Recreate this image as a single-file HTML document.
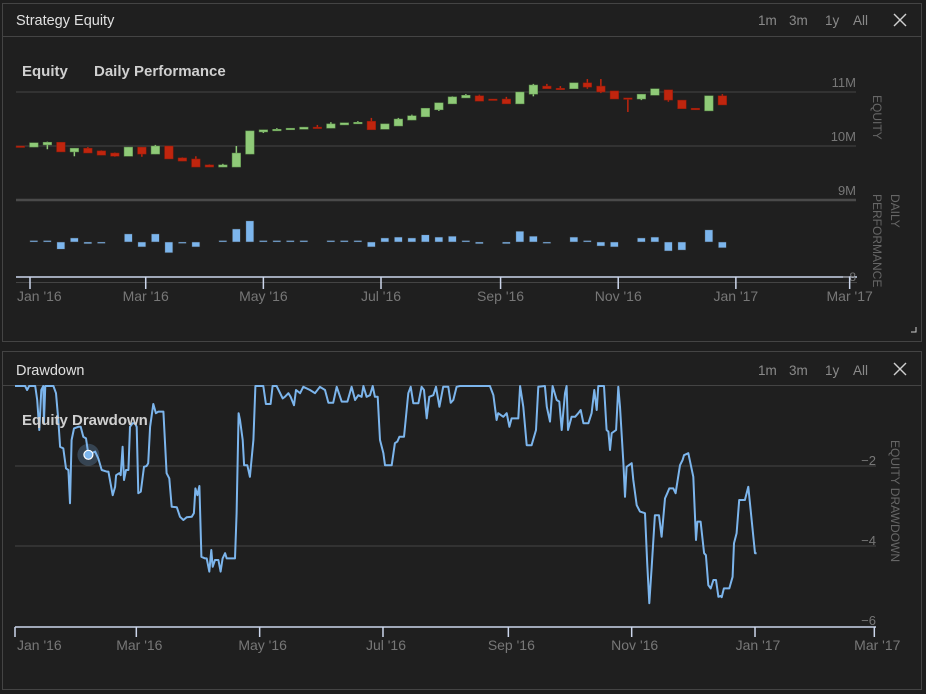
<!DOCTYPE html>
<html><head><meta charset="utf-8">
<style>
html,body{margin:0;padding:0;background:#1e1e1e;}
svg{display:block;font-family:"Liberation Sans",sans-serif;}
</style></head>
<body>
<svg id="root" width="926" height="694" viewBox="0 0 926 694" xmlns="http://www.w3.org/2000/svg">
  <rect x="0" y="0" width="926" height="694" fill="#1e1e1e"/>
  <g>
    <rect x="2.5" y="3.5" width="919" height="338" fill="#1f1f1f" stroke="#444"/>
    <line x1="3" y1="36.5" x2="921" y2="36.5" stroke="#444"/>
    <text x="16" y="25" fill="#e0e0e0" font-size="14.5">Strategy Equity</text>
    <text x="758" y="25" fill="#8a8a8a" font-size="13.5">1m</text>
    <text x="789" y="25" fill="#8a8a8a" font-size="13.5">3m</text>
    <text x="825" y="25" fill="#8a8a8a" font-size="13.5">1y</text>
    <text x="853" y="25" fill="#8a8a8a" font-size="13.5">All</text>
    <g stroke="#cfcfcf" stroke-width="1.4">
      <line x1="894" y1="14" x2="906" y2="26"/><line x1="906" y1="14" x2="894" y2="26"/>
    </g>
    <text x="22" y="76" fill="#d0d0d0" font-size="15" font-weight="bold">Equity</text>
    <text x="94" y="76" fill="#d0d0d0" font-size="15" font-weight="bold">Daily Performance</text>
    <path d="M911 332 H916 V327" fill="none" stroke="#ccc"/>
    <g id="topGrid"></g>
    <g id="candles"></g>
    <g id="perfBars"></g>
    <g id="topAxis"></g>
    <text transform="translate(873,95) rotate(90)" fill="#666" font-size="12">EQUITY</text>
    <text transform="translate(891,194) rotate(90)" fill="#666" font-size="12">DAILY</text>
    <text transform="translate(873,194) rotate(90)" fill="#666" font-size="12">PERFORMANCE</text>
  </g>
  <g>
    <rect x="2.5" y="351.5" width="919" height="338" fill="#1f1f1f" stroke="#444"/>
    <line x1="3" y1="385.5" x2="921" y2="385.5" stroke="#444"/>
    <text x="16" y="375" fill="#e0e0e0" font-size="14.5">Drawdown</text>
    <text x="758" y="375" fill="#8a8a8a" font-size="13.5">1m</text>
    <text x="789" y="375" fill="#8a8a8a" font-size="13.5">3m</text>
    <text x="825" y="375" fill="#8a8a8a" font-size="13.5">1y</text>
    <text x="853" y="375" fill="#8a8a8a" font-size="13.5">All</text>
    <g stroke="#cfcfcf" stroke-width="1.4">
      <line x1="894" y1="363" x2="906" y2="375"/><line x1="906" y1="363" x2="894" y2="375"/>
    </g>
    <g id="ddGrid"></g>
    <g id="ddLine"></g>
    <text x="22" y="425" fill="#d0d0d0" font-size="15" font-weight="bold">Equity Drawdown</text>
    <g id="ddAxis"></g>
    <text transform="translate(891,440) rotate(90)" fill="#666" font-size="12">EQUITY DRAWDOWN</text>
  </g>
</svg>
<script>
const monthLabels = ["Jan '16","Mar '16","May '16","Jul '16","Sep '16","Nov '16","Jan '17","Mar '17"];
const monthDays = [0,60,121,182,244,305,366,425];
const equityTicks = [9,10,11];
const equityTickLabels = ["9M","10M","11M"];
const ddTicks = [-2,-4,-6];
const ddTickLabels = ["\u22122","\u22124","\u22126"];
const candleOpen  = [10.00,9.98,10.02,10.07,9.89,9.96,9.91,9.87,9.81,9.98,9.85,10.00,9.78,9.76,9.65,9.61,9.61,9.85,10.26,10.28,10.30,10.31,10.35,10.33,10.39,10.41,10.46,10.31,10.37,10.48,10.54,10.67,10.78,10.89,10.93,10.87,10.87,10.78,10.96,11.11,11.07,11.06,11.17,11.11,11.02,10.89,10.87,10.94,11.04,10.85,10.70,10.65,10.93];
const candleClose = [9.99,10.06,10.07,9.89,9.96,9.87,9.83,9.81,9.98,9.85,10.00,9.76,9.72,9.61,9.61,9.65,9.87,10.28,10.30,10.31,10.33,10.35,10.33,10.41,10.43,10.44,10.30,10.41,10.50,10.56,10.70,10.80,10.91,10.94,10.83,10.85,10.78,11.00,11.13,11.06,11.06,11.17,11.09,11.00,10.87,10.87,10.96,11.06,10.85,10.69,10.67,10.93,10.76];
const candleHigh  = [10.00,10.06,10.08,10.07,9.96,9.98,9.92,9.88,9.98,9.98,10.02,10.00,9.79,9.81,9.66,9.67,10.00,10.28,10.30,10.33,10.33,10.35,10.39,10.44,10.43,10.46,10.52,10.41,10.52,10.58,10.70,10.80,10.92,10.96,10.95,10.87,10.91,11.00,11.15,11.15,11.11,11.17,11.24,11.24,11.02,10.89,10.96,11.06,11.04,10.85,10.70,10.93,10.96];
const candleLow   = [9.99,9.98,9.94,9.89,9.81,9.87,9.83,9.80,9.81,9.80,9.85,9.76,9.72,9.61,9.61,9.61,9.61,9.85,10.24,10.28,10.30,10.31,10.33,10.33,10.39,10.41,10.30,10.31,10.37,10.48,10.54,10.65,10.78,10.89,10.83,10.85,10.78,10.78,10.92,11.06,11.06,11.06,11.06,10.98,10.87,10.63,10.85,10.94,10.82,10.69,10.67,10.65,10.76];
const perfValues  = [0,0.2,0.2,-1.6,0.9,-0.4,-0.2,0,1.8,-1.1,1.8,-2.4,-0.2,-1.1,0,0.2,2.9,4.7,0.2,0.2,0.2,0.2,0,0.2,0.2,0.2,-1.1,0.9,1.1,0.9,1.6,1.1,1.3,0.2,-0.4,0,-0.4,2.4,1.3,-0.2,0,1.1,0.2,-0.9,-1.1,0,0.9,1.1,-2.0,-1.8,0,2.7,-1.3];
const ddDays = [0,5,6,7,10,11,12,13,14,14.3,15,19,20.3,21.4,22.3,23.9,25.2,26.4,27.2,28,29.2,31.3,32.5,33.8,35.1,36.3,37.9,39.6,41.2,42.9,45.3,46.2,48.3,49.5,50,51.6,52.3,53.2,53.9,54.9,56.1,56.9,58.2,59.3,60.2,61,62.2,63.8,65.1,65.9,66.8,68.4,69.7,70.9,73.4,75,76.3,77.5,80,81.6,83.3,84.9,87.4,88.5,89.2,90.2,91.2,92.2,94,94.8,96.1,97.1,97.8,98.9,100.6,101.7,102.7,103.9,104.7,108.8,109.6,110.6,111.3,112.6,113.3,114.9,116.2,117.9,118.9,122.8,124.1,126.4,127.4,129.4,132.4,133.5,135.2,136.3,138,139,141,142.6,145.9,148.4,150.8,153.3,155,157.4,159.1,161.6,164.4,166.5,168.2,169.8,171.4,172.3,173.9,175.6,176.9,178,179.4,180.5,182.2,183,186.3,187.9,189.1,190.1,192.4,194.5,195.7,197,199.5,201.1,202.3,203.6,204.9,206.9,208.2,209.9,211.8,214.3,215.5,216.8,218.4,220.1,234.9,236.6,238.2,239,241.5,243.2,244.5,245.6,248.9,249.8,251.4,253.1,255.5,257.7,258.8,262.1,263,264.6,265.9,267.9,269.2,270.4,272,272.8,273.5,275.3,277,278.6,279.8,281.1,283.6,285.2,286.5,287.7,288.5,291.3,292.6,293.5,294.3,295.1,297.3,298.4,299.2,300.9,301.7,302.5,305,305.8,307.5,309.1,311.6,312.7,313.7,314.9,316.5,318.5,319.8,321.5,322.6,323.6,325.6,326.7,328.9,330.2,330.9,333,335.5,336.8,337.5,339.1,340.8,341.7,342.9,344.1,345.4,346.7,347.9,349,349.5,350.6,353.3,354.9,355.6,356.9,358.2,361,362.7,366,366.8];
const ddValues = [0,0,-0.10,0,0,-0.35,-1.10,-0.10,0,-0.93,0,0,-0.18,-0.85,-1.52,-1.56,-2.06,-2.10,-2.93,-1.35,-1.06,-1.02,-1.02,-1.27,-1.31,-1.72,-1.68,-1.64,-1.81,-2.10,-2.14,-2.14,-2.73,-2.52,-2.23,-2.18,-2.23,-1.52,-2.35,-2.10,-2.10,-1.02,-0.93,-0.93,-1.02,-2.68,-2.64,-2.02,-2.00,-1.93,-1.02,-0.45,-0.68,-0.64,-0.64,-2.18,-2.31,-3.02,-3.03,-3.27,-3.35,-3.28,-3.27,-3.18,-2.56,-2.73,-2.50,-4.27,-4.31,-4.31,-4.64,-4.10,-4.52,-4.35,-4.35,-4.64,-4.31,-4.18,-4.31,-4.31,-3.18,-0.68,-0.85,-1.35,-1.98,-1.98,-2.27,-1.35,0,0,-0.45,-0.45,0,0,-0.31,-0.27,-0.18,-0.27,-0.48,-0.10,-0.18,-0.02,-0.10,-0.18,-0.02,-0.10,-0.42,-0.42,-0.02,-0.39,-0.39,-0.02,-0.35,-0.23,-0.27,0,-0.27,-0.23,0,-0.27,-0.27,-1.35,-1.68,-1.98,-1.98,-1.43,-1.39,-1.27,-1.27,-0.18,-0.02,-0.43,-0.43,-0.02,-0.10,-0.81,-0.27,-0.23,-0.02,-0.52,-0.02,-0.02,-0.42,-0.35,-0.02,0,0,-0.23,-0.85,-0.68,-0.77,-0.68,-1.02,-0.81,-0.81,0,-0.52,-1.48,-1.48,-1.10,-0.02,0,-0.52,-0.89,0,-0.35,-0.39,-1.10,-0.18,0,-1.10,-0.77,-0.77,-0.68,-0.60,-0.93,-0.93,-0.68,-0.10,-0.60,0,0,-1.10,-1.14,-1.60,-1.18,-1.10,-0.02,-0.52,-1.93,-2.77,-2.02,-1.93,-2.35,-2.98,-3.14,-3.18,-4.43,-5.43,-4.52,-3.23,-3.23,-3.77,-2.81,-2.68,-2.56,-2.56,-2.68,-1.98,-1.85,-1.73,-1.68,-2.27,-3.85,-3.39,-3.39,-4.18,-4.23,-4.98,-5.06,-4.85,-4.85,-5.27,-5.25,-5.28,-5.06,-5.06,-4.77,-3.93,-3.68,-2.85,-2.85,-2.52,-4.18,-4.18];
const hoverIndex = 25;

const NS = "http://www.w3.org/2000/svg";
const tx = d => 30 + d * 1.9286;
const ty = v => 146 - (v - 10) * 54;
const py = v => 242 - v * 4.5;
const bx = d => 15 + d * 2.0219;
const by = v => 386 - v * 40;
const weekDay = i => -5 + 7 * i;

function mk(tag, attrs, parent){
  const e = document.createElementNS(NS, tag);
  for (const k in attrs) e.setAttribute(k, attrs[k]);
  parent.appendChild(e);
  return e;
}

const topGrid = document.getElementById('topGrid');
equityTicks.forEach((t,i)=>{
  const l = mk('line',{x1:16,x2:856,y1:ty(t),y2:ty(t),stroke:t===9?'#4a4a4a':'#444','stroke-width':t===9?2.5:1},topGrid);
  
  
  const tt = mk('text',{x:856,y:ty(t)-5,'text-anchor':'end',fill:'#777','font-size':13},topGrid);
  tt.textContent = equityTickLabels[i];
  
  
});

const cg = document.getElementById('candles');
candleOpen.forEach((o,i)=>{
  const c = candleClose[i], up = c >= o;
  const col = up ? '#8fca78' : '#c0250e';
  const stroke = up ? '#5c8f4a' : '#8a1a0a';
  const x = tx(weekDay(i));
  const g = mk('g',{},cg);
  
  
  mk('line',{x1:x,x2:x,y1:ty(candleHigh[i]),y2:ty(candleLow[i]),stroke:col,'stroke-width':1.5},g);
  const top = ty(Math.max(o,c)), h = Math.max(1.5, ty(Math.min(o,c)) - top);
  mk('rect',{x:x-4.3,y:top,width:8.6,height:h,fill:col,stroke:stroke,'stroke-width':0.5},g);
});

const pg = document.getElementById('perfBars');
perfValues.forEach((v,i)=>{
  if (v === 0) return;
  const x = tx(weekDay(i));
  const y0 = py(Math.max(v,0)), y1 = py(Math.min(v,0));
  const h = Math.max(1.5, y1 - y0);
  const r = mk('rect',{x:x-4,y:v>0?y1-h:y0,width:8,height:h,fill:'#7cb5ec',stroke:'#333','stroke-width':0.5},pg);
  
  
});

const ta = document.getElementById('topAxis');
const tl1 = mk('line',{x1:16,x2:857,y1:277,y2:277,stroke:'#ccd6eb','stroke-width':1.5},ta);


mk('line',{x1:16,x2:857,y1:282.5,y2:282.5,stroke:'#444'},ta);
const p8 = mk('text',{x:856,y:281,'text-anchor':'end',fill:'#777','font-size':12},ta);
p8.textContent = '\u22128';


monthDays.forEach((d,i)=>{
  const x = tx(d);
  mk('line',{x1:x,x2:x,y1:277,y2:289,stroke:'#ccd6eb','stroke-width':1.5},ta);
  const t = mk('text',{x:i===0?17:x,y:301,'text-anchor':i===0?'start':'middle',fill:'#777','font-size':14},ta);
  t.textContent = monthLabels[i];
  
  
});

const dg = document.getElementById('ddGrid');
ddTicks.forEach((t,i)=>{
  if (t !== -6) {
    const l = mk('line',{x1:15,x2:876,y1:by(t),y2:by(t),stroke:'#444'},dg);
    
    
  }
  const tt = mk('text',{x:876,y:by(t)-1,'text-anchor':'end',fill:'#777','font-size':13},dg);
  tt.textContent = ddTickLabels[i];
  
  
});

const dl = document.getElementById('ddLine');
const pts = ddDays.map((d,i)=>bx(d).toFixed(1)+','+by(ddValues[i]).toFixed(1)).join(' ');
const line = mk('polyline',{points:pts,fill:'none',stroke:'#7cb5ec','stroke-width':2,'stroke-linejoin':'round'},dl);


const hx = bx(ddDays[hoverIndex]), hy = by(ddValues[hoverIndex]);
const halo = mk('circle',{cx:hx,cy:hy,r:11,fill:'rgba(124,181,236,0.25)'},dl);


const mkr = mk('circle',{cx:hx,cy:hy,r:4.5,fill:'#7cb5ec',stroke:'#fff','stroke-width':1.2},dl);



const da = document.getElementById('ddAxis');
const bl = mk('line',{x1:15,x2:876,y1:627,y2:627,stroke:'#ccd6eb','stroke-width':1.5},da);


monthDays.forEach((d,i)=>{
  const x = bx(d);
  mk('line',{x1:x,x2:x,y1:627,y2:637,stroke:'#ccd6eb','stroke-width':1.5},da);
  const t = mk('text',{x:i===0?17:x+3,y:650,'text-anchor':i===0?'start':'middle',fill:'#777','font-size':14},da);
  t.textContent = monthLabels[i];
  
  
});
</script>
</body></html>
